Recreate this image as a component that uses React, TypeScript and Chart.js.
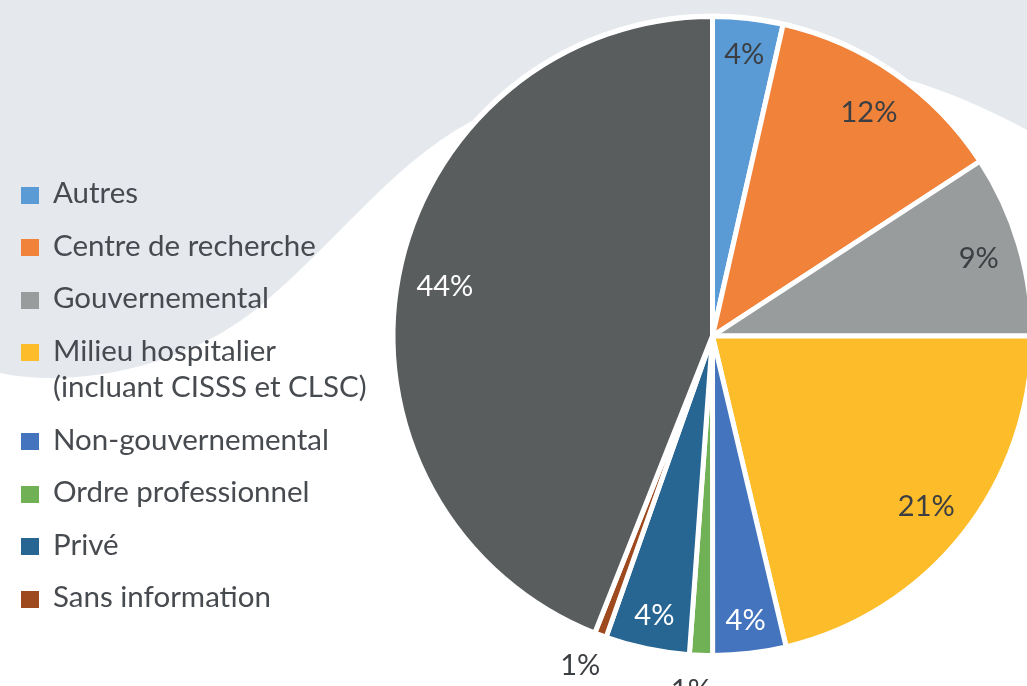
import React, { useEffect, useRef } from "react";
import { Chart, registerables } from "chart.js";

Chart.register(...registerables);

// ---- Data ----
const categories = [
  "Autres",
  "Centre de recherche",
  "Gouvernemental",
  "Milieu hospitalier (incluant CISSS et CLSC)",
  "Non-gouvernemental",
  "Ordre professionnel",
  "Privé",
  "Sans information",
  "Non précisé dans la légende",
];
const legendLines = [
  ["Autres"],
  ["Centre de recherche"],
  ["Gouvernemental"],
  ["Milieu hospitalier", "(incluant CISSS et CLSC)"],
  ["Non-gouvernemental"],
  ["Ordre professionnel"],
  ["Privé"],
  ["Sans information"],
];
const shares = [3.55, 12.24, 9.21, 21.3, 3.7, 1.16, 4.25, 0.6, 44.0];
const colors = [
  "#5B9BD5",
  "#F0823A",
  "#999C9D",
  "#FDBD2A",
  "#4374BD",
  "#70B155",
  "#276592",
  "#9E4A1E",
  "#5A5D5E",
];
const labelColors = [
  "#3B3E42",
  "#3B3E42",
  "#3B3E42",
  "#3B3E42",
  "#FFFFFF",
  "#3B3E42",
  "#FFFFFF",
  "#3B3E42",
  "#FFFFFF",
];

const FONT = "Lato, 'Open Sans', sans-serif";

const backdrop = {
  id: "backdrop",
  beforeDraw(chart: any) {
    const { ctx, width, height } = chart;
    ctx.save();
    ctx.fillStyle = "#E5E8ED";
    ctx.fillRect(0, 0, width, height);
    ctx.fillStyle = "#FFFFFF";
    ctx.beginPath();
    ctx.moveTo(0, 373);
    ctx.bezierCurveTo(70, 388, 180, 370, 255, 310);
    ctx.bezierCurveTo(330, 250, 390, 165, 470, 122);
    ctx.bezierCurveTo(600, 50, 780, 45, 903, 78);
    ctx.bezierCurveTo(950, 92, 990, 110, width, 130);
    ctx.lineTo(width, height);
    ctx.lineTo(0, height);
    ctx.closePath();
    ctx.fill();
    ctx.restore();
  },
};

const ring = {
  id: "ring",
  beforeDatasetsDraw(chart: any) {
    const arc = chart.getDatasetMeta(0).data[0];
    if (!arc) return;
    const { x, y, outerRadius } = arc.getProps(["x", "y", "outerRadius"], true);
    const ctx = chart.ctx;
    ctx.save();
    ctx.fillStyle = "#FFFFFF";
    ctx.beginPath();
    ctx.arc(x, y, outerRadius + 3, 0, Math.PI * 2);
    ctx.fill();
    ctx.restore();
  },
};

const sliceLabels = {
  id: "sliceLabels",
  afterDatasetsDraw(chart: any) {
    const ctx = chart.ctx;
    const meta = chart.getDatasetMeta(0);
    const values = chart.data.datasets[0].data as number[];
    const total = values.reduce((a, b) => a + b, 0);
    ctx.save();
    ctx.font = `29px ${FONT}`;
    ctx.textAlign = "center";
    ctx.textBaseline = "middle";
    meta.data.forEach((arc: any, i: number) => {
      const { x, y, startAngle, endAngle, outerRadius } = arc.getProps(
        ["x", "y", "startAngle", "endAngle", "outerRadius"],
        true
      );
      const pct = (values[i] / total) * 100;
      const mid = (startAngle + endAngle) / 2;
      const deg = ((endAngle - startAngle) * 180) / Math.PI;
      let r: number;
      let color = labelColors[i];
      let a = mid;
      if (pct < 2) {
        r = outerRadius + 34;
        color = "#3B3E42";
        a = mid + 0.025;
      } else {
        r = outerRadius - Math.min(47, 30 + 0.35 * deg);
      }
      ctx.fillStyle = color;
      ctx.fillText(`${Math.round(pct)}%`, x + Math.cos(a) * r, y + Math.sin(a) * r + 2);
    });
    ctx.restore();
  },
};

export default function App() {
  const ref = useRef<HTMLCanvasElement>(null);
  useEffect(() => {
    const chart = new Chart(ref.current as HTMLCanvasElement, {
      type: "pie",
      data: {
        labels: categories,
        datasets: [
          {
            data: shares,
            backgroundColor: colors,
            borderColor: "#FFFFFF",
            borderWidth: 5,
            radius: 319.5,
            clip: false,
          } as any,
        ],
      },
      options: {
        responsive: false,
        animation: false,
        layout: { padding: { left: 398, right: 0, top: 0, bottom: 14 } },
        plugins: { legend: { display: false }, tooltip: { enabled: false } },
      },
      plugins: [backdrop, ring, sliceLabels],
    });
    return () => chart.destroy();
  }, []);

  return (
    <div
      style={{
        position: "fixed",
        left: 0,
        top: 0,
        width: 1027,
        height: 686,
        overflow: "hidden",
        background: "#FFFFFF",
      }}
    >
      <canvas
        ref={ref}
        width={1027}
        height={686}
        style={{ position: "absolute", left: 0, top: 0 }}
      />
      <div
        style={{
          position: "absolute",
          left: 0,
          top: 174,
          fontFamily: FONT,
          fontSize: 29.5,
          lineHeight: "36.5px",
          color: "#474B50",
        }}
      >
        {legendLines.map((lines, i) => (
          <div key={i} style={{ position: "relative", paddingLeft: 53, marginBottom: 16 }}>
            <span
              style={{
                position: "absolute",
                left: 21,
                top: 12.5,
                width: 18,
                height: 17,
                background: colors[i],
              }}
            />
            {lines.map((l, j) => (
              <div key={j} style={{ whiteSpace: "nowrap" }}>
                {l}
              </div>
            ))}
          </div>
        ))}
      </div>
    </div>
  );
}
